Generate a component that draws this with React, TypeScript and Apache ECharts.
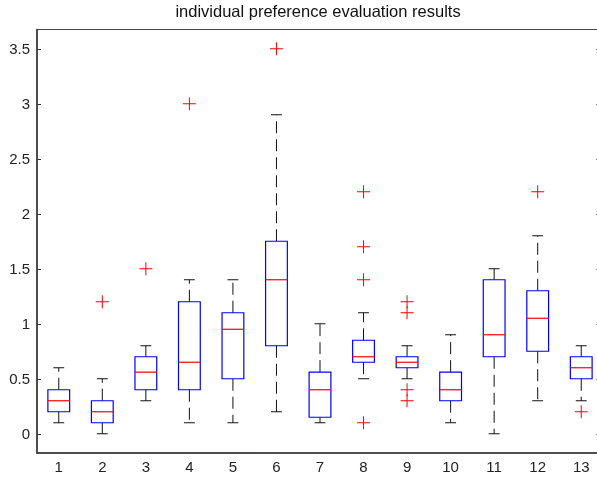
import React, { useEffect, useRef } from "react";
import * as echarts from "echarts";

const categories = ["1", "2", "3", "4", "5", "6", "7", "8", "9", "10", "11", "12", "13"];
const lowerWhisker = [0.1, 0, 0.3, 0.1, 0.1, 0.2, 0.1, 0.5, 0.5, 0.1, 0, 0.3, 0.3];
const q1 = [0.2, 0.1, 0.4, 0.4, 0.5, 0.8, 0.15, 0.65, 0.6, 0.3, 0.7, 0.75, 0.5];
const median = [0.3, 0.2, 0.56, 0.65, 0.95, 1.4, 0.4, 0.7, 0.65, 0.4, 0.9, 1.05, 0.6];
const q3 = [0.4, 0.3, 0.7, 1.2, 1.1, 1.75, 0.56, 0.85, 0.7, 0.56, 1.4, 1.3, 0.7];
const upperWhisker = [0.6, 0.5, 0.8, 1.4, 1.4, 2.9, 1.0, 1.1, 0.8, 0.9, 1.5, 1.8, 0.8];
const outliers: number[][] = [
  [],
  [1.2],
  [1.5],
  [3.0],
  [],
  [3.5],
  [],
  [2.2, 1.7, 1.4, 0.1],
  [1.2, 1.1, 0.4, 0.3],
  [],
  [],
  [2.2],
  [0.2],
];
const yTicks = [0, 0.5, 1, 1.5, 2, 2.5, 3, 3.5];
const yMin = -0.175;
const yMax = 3.675;
const title = "individual preference evaluation results";

export default function App() {
  const ref = useRef<HTMLDivElement>(null);
  useEffect(() => {
    document.body.style.margin = "0";
    const chart = echarts.init(ref.current!, null, { renderer: "svg" });
    const boxData = categories.map((_, i) => [i, lowerWhisker[i], q1[i], median[i], q3[i], upperWhisker[i]]);
    const outlierData: number[][] = [];
    outliers.forEach((arr, i) => arr.forEach((v) => outlierData.push([i, v])));
    const font = "Liberation Sans, Arial, sans-serif";
    chart.setOption({
      animation: false,
      title: {
        text: title,
        left: 318,
        textAlign: "center",
        top: 2,
        padding: 0,
        textStyle: { fontFamily: font, fontSize: 16.5, fontWeight: "normal", color: "#111" },
      },
      grid: {
        left: 37,
        width: 566,
        top: 29.5,
        height: 423.5,
        outerBoundsMode: "none",
        containLabel: false,
        show: true,
        borderColor: "#444",
        borderWidth: 1,
      },
      xAxis: {
        type: "category",
        data: categories,
        axisTick: { show: false },
        axisLine: { onZero: false, lineStyle: { color: "#333", width: 1.5 } },
        axisLabel: { fontFamily: font, fontSize: 15, color: "#222", margin: 6 },
        splitLine: { show: false },
      },
      yAxis: [
        {
          type: "value",
          min: yMin,
          max: yMax,
          axisLine: { show: true, onZero: false, lineStyle: { color: "#333", width: 1.5 } },
          axisTick: { show: true, inside: true, length: 4, customValues: yTicks, lineStyle: { color: "#333" } },
          axisLabel: { fontFamily: font, fontSize: 15, color: "#222", margin: 7, customValues: yTicks },
          splitLine: { show: false },
        },
        {
          type: "value",
          position: "right",
          min: yMin,
          max: yMax,
          axisLine: { show: false },
          axisTick: { show: true, inside: true, length: 7, customValues: yTicks, lineStyle: { color: "#777" } },
          axisLabel: { show: false },
          splitLine: { show: false },
        },
      ],
      series: [
        {
          type: "custom",
          silent: true,
          data: boxData,
          encode: { x: 0, y: [1, 2, 3, 4, 5] },
          renderItem: (params: any, api: any) => {
            const idx = api.value(0);
            const band = api.size([1, 0])[0];
            const half = band * 0.25;
            const capHalf = band * 0.125;
            const pLow = api.coord([idx, api.value(1)]);
            const pQ1 = api.coord([idx, api.value(2)]);
            const pMed = api.coord([idx, api.value(3)]);
            const pQ3 = api.coord([idx, api.value(4)]);
            const pHigh = api.coord([idx, api.value(5)]);
            const cx = pMed[0];
            const dash = { stroke: "#111", lineWidth: 1, lineDash: [12, 6], fill: "none" };
            const solid = { stroke: "#111", lineWidth: 1, fill: "none" };
            return {
              type: "group",
              children: [
                { type: "line", shape: { x1: cx, y1: pQ3[1], x2: cx, y2: pHigh[1] }, style: dash },
                { type: "line", shape: { x1: cx, y1: pQ1[1], x2: cx, y2: pLow[1] }, style: dash },
                { type: "line", shape: { x1: cx - capHalf, y1: pHigh[1], x2: cx + capHalf, y2: pHigh[1] }, style: solid },
                { type: "line", shape: { x1: cx - capHalf, y1: pLow[1], x2: cx + capHalf, y2: pLow[1] }, style: solid },
                {
                  type: "rect",
                  shape: { x: cx - half, y: pQ3[1], width: half * 2, height: pQ1[1] - pQ3[1] },
                  style: { stroke: "#0000ff", lineWidth: 1.2, fill: "none" },
                },
                {
                  type: "line",
                  shape: { x1: cx - half, y1: pMed[1], x2: cx + half, y2: pMed[1] },
                  style: { stroke: "#ff0000", lineWidth: 1.2 },
                },
              ],
            };
          },
        },
        {
          type: "custom",
          silent: true,
          data: outlierData,
          encode: { x: 0, y: 1 },
          renderItem: (params: any, api: any) => {
            const p = api.coord([api.value(0), api.value(1)]);
            const s = 6.5;
            const st = { stroke: "#ff0000", lineWidth: 1 };
            return {
              type: "group",
              children: [
                { type: "line", shape: { x1: p[0] - s, y1: p[1], x2: p[0] + s, y2: p[1] }, style: st },
                { type: "line", shape: { x1: p[0], y1: p[1] - s, x2: p[0], y2: p[1] + s }, style: st },
              ],
            };
          },
        },
      ],
    });
    return () => chart.dispose();
  }, []);
  return <div ref={ref} style={{ position: "fixed", left: 0, top: 0, width: 597, height: 478 }} />;
}
